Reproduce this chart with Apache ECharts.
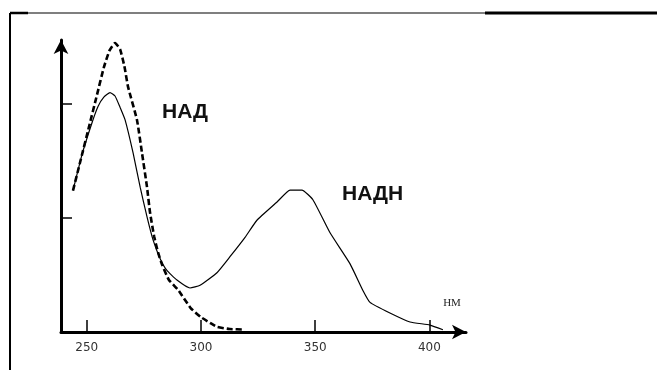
<!DOCTYPE html>
<html>
<head>
<meta charset="utf-8">
<script src="https://cdn.jsdelivr.net/npm/echarts@6/dist/echarts.min.js"></script>
<style>
html,body{margin:0;padding:0;background:#fff;}
#c{width:657px;height:370px;}
</style>
</head>
<body>
<div id="c"></div>
<script>
// Wavelength ticks (nm)
const xTicks = [250, 300, 350, 400];
const yTicks = [1, 2];
// НАД (dashed) absorbance curve: [nm, relative absorbance]
const nadData = [
  [244.0, 1.24], [247.0, 1.48], [251.0, 1.80], [254.5, 2.08], [257.5, 2.32],
  [260.0, 2.47], [262.4, 2.535], [264.6, 2.48], [266.5, 2.33], [268.1, 2.15],
  [272.0, 1.86], [274.2, 1.57], [276.4, 1.27], [277.7, 1.05], [279.5, 0.84],
  [281.2, 0.70], [283.0, 0.59], [286.0, 0.456], [290.0, 0.37], [295.5, 0.21],
  [300.0, 0.13], [304.0, 0.08], [307.0, 0.045], [312.6, 0.026], [319.0, 0.022]
];
// НАДН (solid) absorbance curve
const nadhData = [
  [244.0, 1.24], [248.0, 1.56], [252.4, 1.84], [255.0, 1.98], [257.5, 2.06],
  [260.2, 2.10], [262.4, 2.07], [264.6, 1.97], [266.8, 1.86], [270.3, 1.57],
  [273.4, 1.27], [276.4, 1.01], [279.0, 0.81], [282.0, 0.65], [285.1, 0.54],
  [289.5, 0.456], [295.2, 0.386], [299.6, 0.41], [307.0, 0.52], [312.7, 0.66],
  [319.3, 0.83], [324.5, 0.98], [333.3, 1.14], [339.0, 1.245], [344.2, 1.245],
  [349.0, 1.16], [356.5, 0.87], [365.2, 0.60], [371.0, 0.36], [374.0, 0.26],
  [382.7, 0.167], [391.5, 0.088], [400.2, 0.061], [405.9, 0.02]
];
const labelNad = 'НАД';
const labelNadh = 'НАДН';
const unitLabel = 'НМ';

const chart = echarts.init(document.getElementById('c'), null, {renderer: 'canvas'});
chart.setOption({
  animation: false,
  backgroundColor: '#fff',
  grid: {left: 61, right: 191, top: 40, bottom: 38},
  xAxis: {
    type: 'value', min: 238.75, max: 416,
    splitLine: {show: false},
    axisLine: {lineStyle: {color: '#000', width: 3}, symbol: ['none', 'arrow'], symbolSize: [11, 14]},
    axisTick: {show: true, inside: true, length: 12, lineStyle: {color: '#000', width: 1.5}, customValues: xTicks},
    axisLabel: {customValues: xTicks, margin: 10, color: '#333', fontFamily: 'DejaVu Sans', fontSize: 12}
  },
  yAxis: {
    type: 'value', min: 0, max: 2.561,
    splitLine: {show: false},
    axisLine: {lineStyle: {color: '#000', width: 3}, symbol: ['none', 'arrow'], symbolSize: [11, 14]},
    axisTick: {show: true, inside: true, length: 11, lineStyle: {color: '#000', width: 1.5}, customValues: yTicks},
    axisLabel: {show: false}
  },
  series: [
    {type: 'line', data: nadData, smooth: 0.15, showSymbol: false,
     lineStyle: {color: '#000', width: 2.6, type: [6, 3]}},
    {type: 'line', data: nadhData, smooth: 0.15, showSymbol: false,
     lineStyle: {color: '#000', width: 1.2}}
  ],
  graphic: [
    {type: 'line', shape: {x1: 10, y1: 13, x2: 10, y2: 370}, style: {stroke: '#000', lineWidth: 2}},
    {type: 'line', shape: {x1: 10, y1: 13, x2: 485, y2: 13}, style: {stroke: '#000', lineWidth: 1.2}},
    {type: 'line', shape: {x1: 10, y1: 13, x2: 28, y2: 13}, style: {stroke: '#000', lineWidth: 2.5}},
    {type: 'line', shape: {x1: 485, y1: 13, x2: 657, y2: 13}, style: {stroke: '#000', lineWidth: 3}},
    {type: 'text', x: 162, y: 112, style: {text: labelNad, fill: '#111', font: 'bold 21px "Liberation Sans", Arial', verticalAlign: 'middle'}},
    {type: 'text', x: 342, y: 194, style: {text: labelNadh, fill: '#111', font: 'bold 21px "Liberation Sans", Arial', verticalAlign: 'middle'}},
    {type: 'text', x: 452, y: 303, style: {text: unitLabel, fill: '#222', font: '11px "Liberation Serif", "DejaVu Serif", serif', align: 'center', verticalAlign: 'middle'}}
  ]
});
</script>
</body>
</html>
